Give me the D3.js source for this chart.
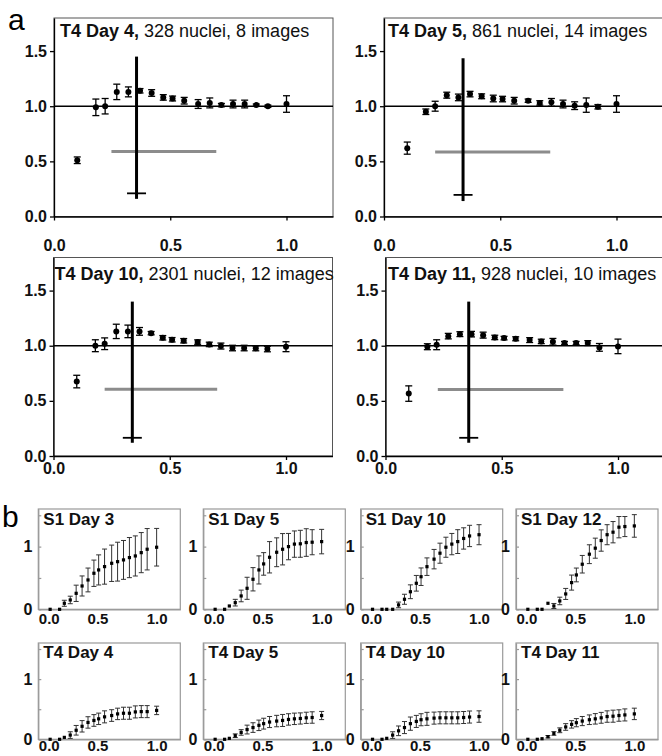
<!DOCTYPE html>
<html lang="en">
<head>
<meta charset="UTF-8">
<title>Nuclei profiles</title>
<script src="https://d3js.org/d3.v7.min.js"></script>
<style>
  body { margin:0; background:#fff; }
  svg text { font-family: "Liberation Sans", Arial, Helvetica, sans-serif; }
</style>
</head>
<body>
<svg id="fig" width="662" height="756"></svg>
<script>
// ---------- panel a data ----------
var binX = [0.10,0.18,0.22,0.27,0.32,0.37,0.42,0.47,0.51,0.56,0.62,0.67,0.72,0.77,0.82,0.87,0.92,1.00];
var aTitles = [["T4 Day 4,", " 328 nuclei, 8 images"], ["T4 Day 5,", " 861 nuclei, 14 images"],
               ["T4 Day 10,", " 2301 nuclei, 12 images"], ["T4 Day 11,", " 928 nuclei, 10 images"]];
var day4Y  = [0.51,0.99,1.00,1.13,1.13,1.14,1.12,1.08,1.07,1.05,1.02,1.03,1.01,1.02,1.02,1.01,1.00,1.02];
var day4E  = [0.03,0.075,0.07,0.07,0.045,0.02,0.03,0.025,0.022,0.03,0.04,0.045,0.015,0.035,0.035,0.01,0.01,0.075];
var day5Y  = [0.62,0.95,1.00,1.10,1.08,1.11,1.09,1.07,1.065,1.05,1.05,1.03,1.035,1.02,1.005,1.01,0.995,1.02];
var day5E  = [0.055,0.025,0.045,0.027,0.03,0.025,0.022,0.03,0.025,0.03,0.015,0.02,0.035,0.035,0.035,0.065,0.02,0.075];
var day10Y = [0.675,1.00,1.018,1.13,1.13,1.13,1.114,1.072,1.054,1.045,1.033,1.012,0.997,0.979,0.979,0.976,0.970,0.991];
var day10E = [0.057,0.054,0.053,0.065,0.057,0.035,0.015,0.02,0.02,0.02,0.02,0.02,0.027,0.025,0.025,0.022,0.025,0.045];
var day11Y = [0.566,0.991,1.009,1.087,1.105,1.105,1.096,1.075,1.069,1.063,1.051,1.039,1.036,1.024,1.024,1.024,0.985,0.994];
var day11E = [0.07,0.027,0.045,0.025,0.022,0.025,0.027,0.02,0.016,0.018,0.022,0.02,0.03,0.015,0.015,0.022,0.035,0.066];
// reference lines in each panel a
var refX      = [0.355, 0.340, 0.339, 0.358];
var refTop    = [1.45, 1.435, 1.40, 1.40];
var refBottom = [0.16, 0.14, 0.12, 0.12];
var crossY    = [0.21, 0.196, 0.165, 0.165];
var grayY     = [0.59, 0.586, 0.605, 0.602];
var grayStart = [0.247, 0.22, 0.22, 0.225];
var grayEnd   = [0.698, 0.715, 0.704, 0.765];
var aYTicks = [0, 0.5, 1.0, 1.5];
var aXTicks = [0, 0.5, 1.0];

// ---------- panel b data ----------
var bTitles = ["S1 Day 3", "S1 Day 5", "S1 Day 10", "S1 Day 12", "T4 Day 4", "T4 Day 5", "T4 Day 10", "T4 Day 11"];
var s1d3Y  = [0,0,0.096,0.149,0.255,0.372,0.468,0.575,0.628,0.681,0.734,0.76,0.788,0.825,0.851,0.904,0.958,0.99];
var s1d3E  = [0,0,0.048,0.06,0.13,0.16,0.19,0.21,0.24,0.28,0.29,0.31,0.31,0.32,0.32,0.32,0.33,0.30];
var s1d5Y  = [0,0,0.053,0.106,0.213,0.335,0.479,0.628,0.724,0.83,0.91,0.958,1.0,1.04,1.045,1.065,1.07,1.08];
var s1d5E  = [0,0,0,0.053,0.093,0.176,0.186,0.224,0.18,0.25,0.23,0.25,0.21,0.21,0.215,0.22,0.2,0.195];
var s1d10Y = [0,0,0,0,0.07,0.16,0.28,0.415,0.52,0.68,0.8,0.895,0.99,1.04,1.08,1.13,1.17,1.19];
var s1d10E = [0,0,0,0,0.045,0.08,0.11,0.125,0.14,0.14,0.155,0.16,0.16,0.17,0.19,0.17,0.17,0.16];
var s1d12Y = [0,0,0,0.096,0.053,0.133,0.245,0.426,0.548,0.719,0.879,0.975,1.097,1.19,1.23,1.31,1.32,1.33];
var s1d12E = [0,0,0,0,0.04,0.06,0.088,0.12,0.11,0.14,0.15,0.16,0.17,0.16,0.17,0.17,0.16,0.18];
var t4d4Y  = [0,0,0.032,0.07,0.15,0.216,0.28,0.313,0.34,0.373,0.395,0.422,0.433,0.433,0.455,0.46,0.46,0.48];
var t4d4E  = [0,0,0,0.055,0.08,0.095,0.095,0.097,0.095,0.1,0.097,0.095,0.1,0.1,0.1,0.1,0.1,0.07];
var t4d5Y  = [0,0,0.016,0.06,0.114,0.162,0.195,0.232,0.26,0.287,0.303,0.313,0.33,0.34,0.346,0.357,0.362,0.395];
var t4d5E  = [0,0,0,0.03,0.046,0.073,0.08,0.087,0.09,0.092,0.095,0.1,0.095,0.095,0.093,0.093,0.095,0.068];
var t4d10Y = [0,0,0.016,0.07,0.141,0.195,0.26,0.297,0.325,0.34,0.352,0.357,0.357,0.357,0.357,0.362,0.37,0.378];
var t4d10E = [0,0,0,0.055,0.08,0.1,0.11,0.1,0.1,0.108,0.1,0.1,0.1,0.1,0.1,0.1,0.1,0.095];
var t4d11Y = [0,0,0.01,0.043,0.097,0.15,0.205,0.248,0.276,0.303,0.325,0.34,0.357,0.378,0.384,0.395,0.405,0.422];
var t4d11E = [0,0,0,0.02,0.03,0.04,0.055,0.062,0.068,0.076,0.08,0.087,0.09,0.095,0.1,0.095,0.1,0.095];
var bYTicks = [0, 0.5, 1, 1.5];
var bYLabels = [0, 1];
var bXTicks = [0, 0.5, 1.0];

var svg = d3.select("#fig");

svg.append("text").attr("x", 8).attr("y", 30).style("font-size", "30px").text("a");
svg.append("text").attr("x", 2).attr("y", 527).style("font-size", "30px").text("b");

// ---------- panel a ----------
var aSeries = [[day4Y, day4E], [day5Y, day5E], [day10Y, day10E], [day11Y, day11E]];
var aLayout = [
  {left: 54,    bottom: 216.5, pad: 19, tx: 60,   ty: 36.5},
  {left: 384,   bottom: 216.5, pad: 19, tx: 388,  ty: 36.5},
  {left: 53.5,  bottom: 456,   pad: 3,  tx: 54.5, ty: 279.5},
  {left: 385.5, bottom: 456,   pad: 3,  tx: 388,  ty: 280}
];

aLayout.forEach(function(L, i) {
  var x = d3.scaleLinear().domain([0, 1.2]).range([L.left, L.left + 279]);
  var y = d3.scaleLinear().domain([0, 1.8]).range([L.bottom, L.bottom - 198.5]);
  var g = svg.append("g");

  g.append("rect")
    .attr("x", x(0)).attr("y", y(1.8))
    .attr("width", x(1.2) - x(0)).attr("height", y(0) - y(1.8))
    .attr("fill", "none").attr("stroke", "#555").attr("stroke-width", 1);

  var ya = g.append("g").attr("transform", "translate(" + x(0) + ",0)")
    .call(d3.axisLeft(y).tickValues(aYTicks).tickFormat(d3.format(".1f")).tickSize(4).tickPadding(3).tickSizeOuter(0));
  var xa = g.append("g").attr("transform", "translate(0," + y(0) + ")")
    .call(d3.axisBottom(x).tickValues(aXTicks).tickFormat(d3.format(".1f")).tickSize(4).tickPadding(L.pad).tickSizeOuter(0));
  [ya, xa].forEach(function(a) {
    a.attr("font-family", null).attr("font-size", null);
    a.selectAll("text").style("font-size", "16px").style("font-weight", "bold").attr("fill", "#111");
    a.selectAll("line, path").attr("stroke", "#000").attr("stroke-width", 1.3);
  });

  // y = 1 reference line
  g.append("line").attr("x1", x(0)).attr("x2", x(1.2)).attr("y1", y(1)).attr("y2", y(1))
    .attr("stroke", "#000").attr("stroke-width", 1.4);

  // gray horizontal bar
  g.append("line").attr("x1", x(grayStart[i])).attr("x2", x(grayEnd[i]))
    .attr("y1", y(grayY[i])).attr("y2", y(grayY[i]))
    .attr("stroke", "#8c8c8c").attr("stroke-width", 3);
  // thick vertical bar
  g.append("line").attr("x1", x(refX[i])).attr("x2", x(refX[i]))
    .attr("y1", y(refTop[i])).attr("y2", y(refBottom[i]))
    .attr("stroke", "#000").attr("stroke-width", 3);
  g.append("line").attr("x1", x(refX[i]) - 9.5).attr("x2", x(refX[i]) + 9.5)
    .attr("y1", y(crossY[i])).attr("y2", y(crossY[i]))
    .attr("stroke", "#000").attr("stroke-width", 1.8);

  var pts = binX.map(function(v, k) { return {x: v, y: aSeries[i][0][k], e: aSeries[i][1][k]}; });
  var eb = g.append("g").attr("stroke", "#000").attr("stroke-width", 1.3);
  eb.selectAll(".v").data(pts).enter().append("line")
    .attr("x1", function(d) { return x(d.x); }).attr("x2", function(d) { return x(d.x); })
    .attr("y1", function(d) { return y(d.y - d.e); }).attr("y2", function(d) { return y(d.y + d.e); });
  eb.selectAll(".t").data(pts).enter().append("line")
    .attr("x1", function(d) { return x(d.x) - 3.5; }).attr("x2", function(d) { return x(d.x) + 3.5; })
    .attr("y1", function(d) { return y(d.y + d.e); }).attr("y2", function(d) { return y(d.y + d.e); });
  eb.selectAll(".b").data(pts).enter().append("line")
    .attr("x1", function(d) { return x(d.x) - 3.5; }).attr("x2", function(d) { return x(d.x) + 3.5; })
    .attr("y1", function(d) { return y(d.y - d.e); }).attr("y2", function(d) { return y(d.y - d.e); });
  g.selectAll("circle").data(pts).enter().append("circle")
    .attr("cx", function(d) { return x(d.x); }).attr("cy", function(d) { return y(d.y); })
    .attr("r", 3).attr("fill", "#000");

  var t = g.append("text").attr("x", L.tx).attr("y", L.ty).style("font-size", "18px").attr("fill", "#111");
  t.append("tspan").style("font-weight", "bold").text(aTitles[i][0]);
  t.append("tspan").attr("xml:space", "preserve").text(aTitles[i][1]);
});

// ---------- panel b ----------
var bSeries = [[s1d3Y, s1d3E], [s1d5Y, s1d5E], [s1d10Y, s1d10E], [s1d12Y, s1d12E],
               [t4d4Y, t4d4E], [t4d5Y, t4d5E], [t4d10Y, t4d10E], [t4d11Y, t4d11E]];
var bLefts = [38.3, 203.3, 360.7, 516];
var bRows = [{top: 509, bottom: 609.3, pad: 4, ty: 525}, {top: 643, bottom: 739.3, pad: 1, ty: 658}];

bSeries.forEach(function(s, i) {
  var R = bRows[Math.floor(i / 4)];
  var left = bLefts[i % 4];
  var x = d3.scaleLinear().domain([0, 1.2]).range([left, left + 142]);
  var y = d3.scaleLinear().domain([0, 1.6]).range([R.bottom, R.top]);
  var g = svg.append("g");

  g.append("rect").attr("x", x(0)).attr("y", y(1.6))
    .attr("width", x(1.2) - x(0)).attr("height", y(0) - y(1.6))
    .attr("fill", "none").attr("stroke", "#999").attr("stroke-width", 1.2);

  var ya = g.append("g").attr("transform", "translate(" + x(0) + ",0)")
    .call(d3.axisLeft(y).tickValues(bYTicks)
      .tickFormat(function(d) { return bYLabels.indexOf(d) >= 0 ? d3.format("d")(d) : ""; })
      .tickSize(-3).tickPadding(6).tickSizeOuter(0));
  var xa = g.append("g").attr("transform", "translate(0," + y(0) + ")")
    .call(d3.axisBottom(x).tickValues(bXTicks).tickFormat(d3.format(".1f")).tickSize(0).tickPadding(R.pad));
  [ya, xa].forEach(function(a) {
    a.attr("font-family", null).attr("font-size", null);
    a.selectAll("text").style("font-size", "16px").style("font-weight", "bold").attr("fill", "#111");
    a.selectAll("line, path").attr("stroke", "#999").attr("stroke-width", 1.2);
  });
  xa.selectAll("text").style("font-size", "15px");
  xa.selectAll(".tick text").filter(function(d) { return d === 0; }).attr("text-anchor", "start");

  var pts = binX.map(function(v, k) { return {x: v, y: s[0][k], e: s[1][k]}; });
  var withBar = pts.filter(function(d) { return d.e > 0; });
  var eb = g.append("g").attr("stroke", "#333").attr("stroke-width", 1);
  eb.selectAll(".v").data(withBar).enter().append("line")
    .attr("x1", function(d) { return x(d.x); }).attr("x2", function(d) { return x(d.x); })
    .attr("y1", function(d) { return y(d.y - d.e); }).attr("y2", function(d) { return y(d.y + d.e); });
  eb.selectAll(".t").data(withBar).enter().append("line")
    .attr("x1", function(d) { return x(d.x) - 2.5; }).attr("x2", function(d) { return x(d.x) + 2.5; })
    .attr("y1", function(d) { return y(d.y + d.e); }).attr("y2", function(d) { return y(d.y + d.e); });
  eb.selectAll(".b").data(withBar).enter().append("line")
    .attr("x1", function(d) { return x(d.x) - 2.5; }).attr("x2", function(d) { return x(d.x) + 2.5; })
    .attr("y1", function(d) { return y(d.y - d.e); }).attr("y2", function(d) { return y(d.y - d.e); });
  g.selectAll("rect.pt").data(pts).enter().append("rect").attr("class", "pt")
    .attr("x", function(d) { return x(d.x) - 1.6; }).attr("y", function(d) { return y(d.y) - 1.6; })
    .attr("width", 3.2).attr("height", 3.2).attr("fill", "#000");

  g.append("text").attr("x", left + 5).attr("y", R.ty)
    .style("font-size", "17px").style("font-weight", "bold").attr("fill", "#111")
    .text(bTitles[i]);
});
</script>
</body>
</html>
